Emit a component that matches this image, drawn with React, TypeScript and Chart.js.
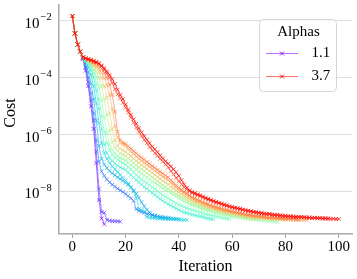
import React, { useEffect, useRef } from "react";
import { Chart, registerables } from "chart.js";

Chart.register(...registerables);

// Alpha values (legend shows first and last)
const alphas = ["1.1", "1.3", "1.5", "1.7", "1.9", "2.1", "2.3", "2.5", "2.7", "2.9", "3.1", "3.3", "3.5", "3.7"];
const seriesColors = [
  [128, 0, 255], [88, 61, 253], [49, 119, 248], [10, 169, 238], [29, 210, 226],
  [69, 238, 210], [108, 253, 191], [147, 253, 169], [186, 238, 145], [226, 210, 119],
  [255, 169, 91], [255, 119, 61], [255, 61, 31], [255, 0, 0],
];
const xTicks = [0, 20, 40, 60, 80, 100];
const yTickExps = [-2, -4, -6, -8];

// log10(cost) per iteration
const cost11 = [-1.83, -2.44, -2.83, -3.08, -3.35, -3.75, -4.3, -5.0, -5.8, -7.0, -8.3, -8.95, -9.15];
const cost13 = [-1.83, -2.44, -2.83, -3.08, -3.32, -3.65, -4.15, -4.8, -5.5, -6.6, -7.9, -8.72, -8.75, -9.0, -9.03, -9.04, -9.05, -9.05, -9.06];
const cost15 = [-1.83, -2.44, -2.83, -3.08, -3.31, -3.6, -4.0, -4.55, -5.25, -6.2,
  -6.95, -7.3, -7.45, -7.58, -7.68, -7.76, -7.83, -7.9, -7.96, -8.02,
  -8.09, -8.16, -8.24, -8.33, -8.62, -8.68, -8.72, -8.75, -8.78, -8.81,
  -8.84, -8.86, -8.88, -8.9, -8.92, -8.93, -8.94];
const cost17 = [-1.83, -2.44, -2.83, -3.08, -3.3, -3.5, -3.8, -4.2, -4.75, -5.5,
  -6.4, -6.85, -7.05, -7.18, -7.28, -7.36, -7.43, -7.5, -7.56, -7.62,
  -7.69, -7.77, -7.86, -7.96, -8.08, -8.22, -8.38, -8.52, -8.64, -8.74,
  -8.82, -8.86, -8.89, -8.91, -8.92, -8.93, -8.94, -8.95, -8.96, -8.97, -8.98];
const cost19 = [-1.83, -2.44, -2.83, -3.08, -3.29, -3.42, -3.62, -3.9, -4.3, -4.9,
  -5.6, -6.3, -6.65, -6.85, -7.0, -7.12, -7.22, -7.32, -7.42, -7.52,
  -7.62, -7.72, -7.85, -8.0, -8.2, -8.62, -8.66, -8.7, -8.9, -8.92,
  -8.93, -8.94, -8.95, -8.95, -8.96, -8.96, -8.97, -8.97, -8.98, -8.98,
  -8.99, -8.99, -9.0, -9.0];
const cost21 = [-1.83, -2.44, -2.83, -3.08, -3.29, -3.38, -3.52, -3.72, -4.0, -4.45,
  -5.1, -5.8, -6.35, -6.65, -6.82, -6.93, -7.02, -7.09, -7.15, -7.2,
  -7.25, -7.34, -7.43, -7.51, -7.6, -7.68, -7.76, -7.84, -7.91, -7.98,
  -8.05, -8.12, -8.19, -8.26, -8.33, -8.39, -8.45, -8.5, -8.55, -8.6,
  -8.65, -8.7, -8.73, -8.76, -8.79, -8.82, -8.84, -8.86, -8.88, -8.9,
  -8.93, -8.95, -8.97, -8.98];
const cost23 = [-1.83, -2.44, -2.83, -3.08, -3.28, -3.36, -3.47, -3.62, -3.85, -4.2,
  -4.75, -5.35, -5.9, -6.3, -6.55, -6.7, -6.8, -6.88, -6.95, -7.0,
  -7.05, -7.14, -7.23, -7.32, -7.41, -7.5, -7.57, -7.64, -7.71, -7.78,
  -7.85, -7.92, -7.99, -8.06, -8.13, -8.19, -8.24, -8.3, -8.36, -8.42,
  -8.47, -8.51, -8.55, -8.59, -8.62, -8.65, -8.68, -8.71, -8.74, -8.77,
  -8.8, -8.82, -8.84, -8.86, -8.88, -8.9, -8.92, -8.94, -8.96, -8.98];
const cost25 = [-1.83, -2.44, -2.83, -3.08, -3.28, -3.35, -3.44, -3.56, -3.72, -3.95,
  -4.3, -4.8, -5.4, -5.95, -6.35, -6.55, -6.68, -6.76, -6.82, -6.86,
  -6.9, -6.98, -7.06, -7.14, -7.22, -7.3, -7.37, -7.44, -7.51, -7.58,
  -7.65, -7.71, -7.77, -7.83, -7.89, -7.95, -8.0, -8.06, -8.12, -8.18,
  -8.24, -8.3, -8.35, -8.39, -8.44, -8.48, -8.52, -8.55, -8.59, -8.62,
  -8.65, -8.68, -8.71, -8.73, -8.76, -8.78, -8.8, -8.82, -8.84, -8.86,
  -8.88, -8.89, -8.91, -8.92, -8.94, -8.95, -8.96, -8.97, -8.98, -8.99,
  -9.0, -9.01, -9.02, -9.03, -9.04, -9.05, -9.06, -9.07];
const cost27 = [-1.83, -2.44, -2.83, -3.08, -3.28, -3.34, -3.41, -3.5, -3.62, -3.78,
  -4.0, -4.3, -4.75, -5.3, -5.85, -6.25, -6.45, -6.57, -6.65, -6.7,
  -6.75, -6.83, -6.91, -7.0, -7.08, -7.15, -7.22, -7.29, -7.36, -7.43,
  -7.5, -7.57, -7.64, -7.71, -7.78, -7.84, -7.9, -7.97, -8.03, -8.09,
  -8.15, -8.2, -8.25, -8.3, -8.35, -8.4, -8.44, -8.48, -8.51, -8.55,
  -8.58, -8.61, -8.64, -8.67, -8.7, -8.72, -8.74, -8.76, -8.78, -8.8,
  -8.82, -8.84, -8.86, -8.88, -8.9, -8.92, -8.93, -8.95, -8.96, -8.97, -8.98];
const cost29 = [-1.83, -2.44, -2.83, -3.08, -3.28, -3.33, -3.39, -3.46, -3.55, -3.66,
  -3.8, -4.0, -4.3, -4.7, -5.25, -5.8, -6.2, -6.4, -6.5, -6.55,
  -6.6, -6.68, -6.76, -6.85, -6.93, -7.0, -7.07, -7.14, -7.21, -7.28,
  -7.35, -7.42, -7.49, -7.56, -7.63, -7.69, -7.75, -7.83, -7.9, -7.97,
  -8.04, -8.1, -8.16, -8.21, -8.27, -8.32, -8.36, -8.4, -8.44, -8.48,
  -8.52, -8.55, -8.58, -8.61, -8.64, -8.66, -8.68, -8.71, -8.73, -8.75,
  -8.77, -8.79, -8.81, -8.83, -8.85, -8.86, -8.87, -8.89, -8.9, -8.91,
  -8.92, -8.93, -8.94, -8.95, -8.95, -8.96, -8.97, -8.98, -8.98, -8.99, -9.0];
const cost31 = [-1.83, -2.44, -2.83, -3.08, -3.28, -3.33, -3.38, -3.43, -3.5, -3.58,
  -3.68, -3.82, -4.0, -4.25, -4.6, -5.1, -5.7, -6.1, -6.28, -6.35,
  -6.4, -6.5, -6.59, -6.68, -6.77, -6.85, -6.92, -6.99, -7.06, -7.13,
  -7.2, -7.27, -7.34, -7.41, -7.48, -7.54, -7.6, -7.69, -7.78, -7.86,
  -7.93, -8.0, -8.06, -8.12, -8.19, -8.25, -8.29, -8.34, -8.38, -8.42,
  -8.46, -8.49, -8.53, -8.56, -8.59, -8.62, -8.64, -8.67, -8.69, -8.71,
  -8.73, -8.75, -8.77, -8.79, -8.81, -8.83, -8.85, -8.86, -8.87, -8.89,
  -8.9, -8.91, -8.92, -8.93, -8.94, -8.94, -8.95, -8.96, -8.96, -8.97,
  -8.98, -8.98, -8.99, -8.99, -9.0, -9.0, -9.01, -9.01, -9.02];
const cost33 = [-1.83, -2.44, -2.83, -3.08, -3.28, -3.32, -3.36, -3.4, -3.45, -3.5,
  -3.58, -3.68, -3.82, -4.0, -4.25, -4.6, -5.2, -5.9, -6.2, -6.28,
  -6.33, -6.41, -6.49, -6.58, -6.66, -6.74, -6.81, -6.88, -6.96, -7.03,
  -7.1, -7.17, -7.24, -7.31, -7.37, -7.44, -7.5, -7.6, -7.7, -7.79,
  -7.87, -7.95, -8.01, -8.07, -8.14, -8.2, -8.24, -8.29, -8.33, -8.38,
  -8.42, -8.45, -8.49, -8.52, -8.55, -8.58, -8.6, -8.63, -8.65, -8.68,
  -8.7, -8.72, -8.74, -8.76, -8.78, -8.8, -8.82, -8.83, -8.85, -8.86,
  -8.87, -8.88, -8.9, -8.91, -8.92, -8.92, -8.93, -8.94, -8.94, -8.95,
  -8.96, -8.96, -8.97, -8.97, -8.98, -8.99];
const cost35 = [-1.83, -2.44, -2.83, -3.08, -3.28, -3.31, -3.34, -3.37, -3.4, -3.44,
  -3.5, -3.6, -3.72, -3.85, -4.0, -4.18, -4.4, -4.58, -4.72, -4.88,
  -5.05, -5.22, -5.4, -5.58, -5.75, -5.9, -6.05, -6.18, -6.3, -6.43,
  -6.55, -6.65, -6.75, -6.85, -6.95, -7.05, -7.15, -7.28, -7.4, -7.52,
  -7.64, -7.75, -7.85, -7.93, -8.0, -8.05, -8.09, -8.13, -8.17, -8.21,
  -8.25, -8.29, -8.32, -8.36, -8.39, -8.42, -8.45, -8.48, -8.51, -8.54,
  -8.56, -8.58, -8.6, -8.62, -8.65, -8.67, -8.68, -8.7, -8.72, -8.73,
  -8.75, -8.76, -8.78, -8.79, -8.8, -8.81, -8.82, -8.83, -8.84, -8.85,
  -8.86, -8.87, -8.88, -8.88, -8.89, -8.9, -8.9, -8.91, -8.92, -8.92,
  -8.93, -8.93, -8.94, -8.94, -8.95, -8.95, -8.96];
const cost37 = [-1.83, -2.44, -2.83, -3.08, -3.28, -3.32, -3.35, -3.38, -3.42, -3.45,
  -3.5, -3.57, -3.66, -3.78, -3.9, -4.05, -4.22, -4.42, -4.6, -4.75,
  -4.95, -5.12, -5.3, -5.46, -5.62, -5.78, -5.92, -6.05, -6.18, -6.3,
  -6.42, -6.52, -6.62, -6.73, -6.84, -6.94, -7.02, -7.12, -7.22, -7.33,
  -7.45, -7.6, -7.75, -7.87, -7.96, -8.02, -8.06, -8.1, -8.14, -8.18,
  -8.22, -8.26, -8.3, -8.33, -8.37, -8.4, -8.43, -8.46, -8.49, -8.52,
  -8.55, -8.57, -8.59, -8.61, -8.64, -8.66, -8.68, -8.7, -8.72, -8.74,
  -8.75, -8.77, -8.78, -8.79, -8.8, -8.82, -8.83, -8.84, -8.85, -8.86,
  -8.87, -8.88, -8.88, -8.89, -8.9, -8.9, -8.91, -8.91, -8.92, -8.92,
  -8.93, -8.93, -8.94, -8.94, -8.95, -8.95, -8.95, -8.96, -8.96, -8.97,
  -8.97];

const allCosts = [cost11, cost13, cost15, cost17, cost19, cost21, cost23, cost25, cost27, cost29, cost31, cost33, cost35, cost37];

const FONT = '"Liberation Serif", "DejaVu Serif", "Times New Roman", serif';
const rgba = (c: number[], a: number) => `rgba(${c[0]},${c[1]},${c[2]},${a})`;

const yLabelPlugin = {
  id: "yLabels",
  afterDraw(chart: any) {
    const ctx = chart.ctx;
    const ys = chart.scales.y;
    ctx.save();
    ctx.fillStyle = "#000";
    yTickExps.forEach((e) => {
      const py = ys.getPixelForValue(Math.pow(10, e));
      ctx.textBaseline = "alphabetic";
      ctx.textAlign = "right";
      ctx.font = `15px ${FONT}`;
      ctx.fillText("10", 39.5, py + 7);
      ctx.textAlign = "left";
      ctx.font = `10.5px ${FONT}`;
      ctx.fillText("\u2212" + Math.abs(e), 40.5, py - 0.5);
    });
    ctx.translate(11, 113);
    ctx.rotate(-Math.PI / 2);
    ctx.textAlign = "center";
    ctx.textBaseline = "middle";
    ctx.font = `16px ${FONT}`;
    ctx.fillText("Cost", 0, 0);
    ctx.restore();
  },
};

const legendPlugin = {
  id: "alphaLegend",
  afterDraw(chart: any) {
    const ctx = chart.ctx;
    ctx.save();
    ctx.beginPath();
    ctx.roundRect(259.5, 19.5, 77, 72, 4);
    ctx.fillStyle = "rgba(255,255,255,0.8)";
    ctx.fill();
    ctx.strokeStyle = "#d6d6d6";
    ctx.lineWidth = 1;
    ctx.stroke();
    ctx.fillStyle = "#000";
    ctx.font = `15px ${FONT}`;
    ctx.textAlign = "center";
    ctx.textBaseline = "middle";
    ctx.fillText("Alphas", 298.5, 32.5);
    const entries = [0, alphas.length - 1];
    entries.forEach((idx, k) => {
      const y = 53.5 + k * 23;
      const c = seriesColors[idx];
      ctx.strokeStyle = rgba(c, 0.55);
      ctx.lineWidth = 1;
      ctx.beginPath();
      ctx.moveTo(266, y);
      ctx.lineTo(298, y);
      ctx.stroke();
      ctx.strokeStyle = rgba(c, 0.85);
      ctx.beginPath();
      ctx.moveTo(280, y - 2);
      ctx.lineTo(284, y + 2);
      ctx.moveTo(280, y + 2);
      ctx.lineTo(284, y - 2);
      ctx.stroke();
      ctx.fillStyle = "#000";
      ctx.textAlign = "left";
      ctx.fillText(alphas[idx], 311.5, y);
    });
    ctx.restore();
  },
};

export default function App() {
  const canvasRef = useRef<HTMLCanvasElement | null>(null);

  useEffect(() => {
    if (!canvasRef.current) return;
    const datasets = allCosts.map((arr, i) => ({
      label: alphas[i],
      data: arr.map((e, it) => ({ x: it, y: Math.pow(10, e) })),
      borderColor: rgba(seriesColors[i], 0.6),
      backgroundColor: rgba(seriesColors[i], 0.6),
      pointBorderColor: rgba(seriesColors[i], 0.7),
      pointBackgroundColor: rgba(seriesColors[i], 0.7),
      borderWidth: 1,
      pointStyle: "crossRot" as const,
      pointRadius: 2.7,
      pointBorderWidth: 1,
      tension: 0,
      order: allCosts.length - 1 - i,
    }));

    const chart = new Chart(canvasRef.current, {
      type: "line",
      data: { datasets },
      options: {
        animation: false,
        responsive: false,
        devicePixelRatio: 1,
        layout: { padding: { left: 59, top: 3, right: 4, bottom: 3 } },
        plugins: { legend: { display: false }, tooltip: { enabled: false } },
        scales: {
          x: {
            type: "linear",
            min: -5,
            max: 105,
            afterBuildTicks: (scale: any) => {
              scale.ticks = xTicks.map((v) => ({ value: v }));
            },
            grid: { drawOnChartArea: false, drawTicks: true, tickLength: 4, color: "#999999" },
            border: { display: true, color: "#aaaaaa", width: 1.5 },
            ticks: { color: "#000", padding: 0, font: { family: FONT, size: 15 }, maxRotation: 0 },
            title: { display: true, text: "Iteration", color: "#000", font: { family: FONT, size: 16 }, padding: { top: 1, bottom: 0 } },
          },
          y: {
            type: "logarithmic",
            min: Math.pow(10, -9.49),
            max: Math.pow(10, -1.44),
            afterBuildTicks: (scale: any) => {
              scale.ticks = yTickExps.map((e) => ({ value: Math.pow(10, e) }));
            },
            grid: { drawTicks: false, color: "#dddddd", lineWidth: 1 },
            border: { display: true, color: "#aaaaaa", width: 1.5 },
            ticks: { display: false },
          },
        },
      },
      plugins: [yLabelPlugin, legendPlugin],
    });

    let alive = true;
    const fs: any = (document as any).fonts;
    if (fs && fs.load) {
      Promise.all([
        fs.load('15px "Liberation Serif"'),
        fs.load('16px "Liberation Serif"'),
        fs.load('15px "DejaVu Serif"'),
      ])
        .then(() => {
          if (alive) chart.update();
        })
        .catch(() => {});
    }
    return () => {
      alive = false;
      chart.destroy();
    };
  }, []);

  return (
    <canvas
      ref={canvasRef}
      width={357}
      height={279}
      style={{ position: "fixed", left: 0, top: 0, width: 357, height: 279 }}
    />
  );
}
